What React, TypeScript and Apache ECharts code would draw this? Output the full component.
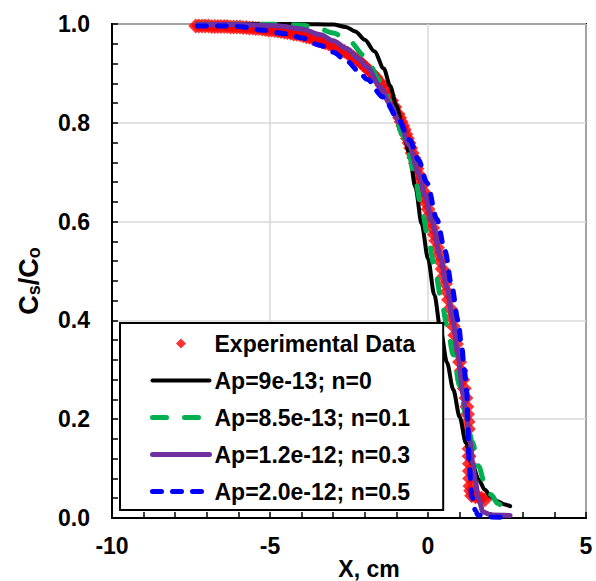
import React, { useEffect, useRef } from "react";
import * as echarts from "echarts";

const FONT = "'Liberation Sans', Arial, Helvetica, sans-serif";

const seriesNames = [
  "Experimental Data",
  "Ap=9e-13; n=0",
  "Ap=8.5e-13; n=0.1",
  "Ap=1.2e-12; n=0.3",
  "Ap=2.0e-12; n=0.5",
];

const xTicks = { min: -10, max: 5, interval: 5 };
const yTicks = { min: 0, max: 1, interval: 0.2 };

const expData: number[][] = [
  [-7.35, 0.996], [-7.25, 0.996], [-7.15, 0.996], [-7.05, 0.996], [-6.95, 0.996], [-6.85, 0.995],
  [-6.75, 0.995], [-6.65, 0.995], [-6.55, 0.995], [-6.45, 0.995], [-6.35, 0.995], [-6.25, 0.994],
  [-6.15, 0.994], [-6.05, 0.994], [-5.95, 0.994], [-5.85, 0.993], [-5.75, 0.993], [-5.65, 0.992],
  [-5.55, 0.992], [-5.45, 0.991], [-5.35, 0.991], [-5.25, 0.99], [-5.15, 0.989], [-5.05, 0.988],
  [-4.95, 0.988], [-4.85, 0.987], [-4.75, 0.986], [-4.65, 0.985], [-4.55, 0.984], [-4.45, 0.983],
  [-4.35, 0.982], [-4.25, 0.98], [-4.15, 0.979], [-4.05, 0.978], [-3.95, 0.976], [-3.85, 0.974],
  [-3.75, 0.973], [-3.65, 0.971], [-3.55, 0.969], [-3.45, 0.966], [-3.35, 0.964], [-3.25, 0.962],
  [-3.15, 0.96], [-3.05, 0.957], [-2.95, 0.954], [-2.85, 0.951], [-2.75, 0.948], [-2.65, 0.945],
  [-2.55, 0.941], [-2.45, 0.937], [-2.35, 0.932], [-2.25, 0.928], [-2.15, 0.923], [-2.05, 0.917],
  [-1.95, 0.911], [-1.85, 0.905], [-1.75, 0.899], [-1.65, 0.892], [-1.55, 0.884], [-1.45, 0.875],
  [-1.35, 0.866], [-1.25, 0.856], [-1.15, 0.845], [-1.05, 0.832],
  [-0.95, 0.818], [-0.9, 0.81], [-0.85, 0.802], [-0.8, 0.794], [-0.75, 0.786], [-0.7, 0.777],
  [-0.65, 0.768], [-0.6, 0.759], [-0.55, 0.749], [-0.5, 0.739], [-0.45, 0.729], [-0.4, 0.718],
  [-0.35, 0.707], [-0.3, 0.696], [-0.25, 0.685], [-0.2, 0.673], [-0.15, 0.661], [-0.1, 0.649],
  [-0.05, 0.637], [0.0, 0.625], [0.05, 0.613], [0.1, 0.6], [0.15, 0.587], [0.2, 0.574],
  [0.25, 0.561], [0.3, 0.547], [0.35, 0.533], [0.4, 0.519], [0.45, 0.504], [0.5, 0.489],
  [0.55, 0.474], [0.6, 0.458], [0.65, 0.442], [0.7, 0.424], [0.75, 0.406], [0.8, 0.388],
  [0.85, 0.37], [0.9, 0.352], [0.95, 0.334], [1.0, 0.316], [1.05, 0.298], [1.1, 0.28],
  [1.15, 0.262], [1.2, 0.243], [1.23, 0.225], [1.25, 0.21], [1.27, 0.195], [1.28, 0.18],
  [1.3, 0.14], [1.3, 0.125], [1.31, 0.11], [1.31, 0.095], [1.32, 0.08], [1.33, 0.065],
  [1.35, 0.055], [1.38, 0.045], [1.5, 0.043], [1.6, 0.042], [1.7, 0.04], [1.8, 0.037],
];

const blackN0: number[][] = [
  [-7.3, 1.0], [-4.0, 1.0], [-3.0, 0.999], [-2.6, 0.994], [-2.3, 0.985], [-2.0, 0.968],
  [-1.7, 0.945], [-1.4, 0.91], [-1.2, 0.875], [-1.0, 0.835], [-0.8, 0.79], [-0.6, 0.74],
  [-0.4, 0.67], [-0.2, 0.595], [0.0, 0.525], [0.2, 0.452], [0.4, 0.38], [0.6, 0.315],
  [0.8, 0.26], [1.0, 0.205], [1.2, 0.152], [1.4, 0.11], [1.6, 0.078], [1.8, 0.057],
  [2.0, 0.043], [2.2, 0.034], [2.4, 0.028], [2.6, 0.024],
];

const greenN01: number[][] = [
  [-7.3, 1.0], [-5.0, 1.0], [-4.0, 0.998], [-3.5, 0.992], [-3.0, 0.982], [-2.5, 0.966],
  [-2.0, 0.935], [-1.5, 0.885], [-1.1, 0.826], [-0.8, 0.775], [-0.6, 0.735], [-0.4, 0.682],
  [-0.2, 0.625], [0.0, 0.568], [0.2, 0.51], [0.4, 0.45], [0.6, 0.39], [0.8, 0.33],
  [1.0, 0.268], [1.2, 0.208], [1.4, 0.155], [1.6, 0.105], [1.8, 0.07], [2.0, 0.047],
  [2.2, 0.03], [2.44, 0.016],
];

const purpleN03: number[][] = [
  [-7.3, 0.999], [-6.0, 0.999], [-5.0, 0.997], [-4.7, 0.996], [-4.0, 0.99], [-3.4, 0.978],
  [-3.0, 0.966], [-2.57, 0.95], [-2.2, 0.93], [-1.93, 0.913], [-1.5, 0.872], [-1.2, 0.838],
  [-0.89, 0.8], [-0.6, 0.755], [-0.3, 0.698], [-0.09, 0.652], [0.13, 0.6], [0.4, 0.527],
  [0.6, 0.467], [0.79, 0.4], [0.95, 0.33], [1.11, 0.25], [1.22, 0.205], [1.33, 0.155],
  [1.42, 0.11], [1.49, 0.077], [1.6, 0.04], [1.74, 0.012], [2.0, 0.006], [2.6, 0.005],
];

const blueN05: number[][] = [
  [-7.3, 0.996], [-6.5, 0.996], [-6.0, 0.995], [-5.3, 0.988], [-4.46, 0.98], [-4.0, 0.972],
  [-3.42, 0.957], [-3.0, 0.943], [-2.57, 0.925], [-2.2, 0.905], [-1.93, 0.888], [-1.42, 0.852],
  [-0.98, 0.812], [-0.57, 0.765], [-0.3, 0.725], [-0.03, 0.678], [0.28, 0.605], [0.54, 0.54],
  [0.75, 0.47], [0.95, 0.4], [1.07, 0.345], [1.15, 0.3], [1.23, 0.255], [1.26, 0.2],
  [1.28, 0.15], [1.3, 0.11], [1.39, 0.043], [1.5, 0.015], [1.58, 0.006], [2.0, 0.002],
  [2.6, 0.0],
];

// legend icon for the scatter: small diamond centred in a 57x12 box
const DIAMOND_ICON =
  "path://M0,0L0.01,0M57,12L56.99,12M28.5,1L33.5,6L28.5,11L23.5,6Z";

export default function App() {
  const ref = useRef<HTMLDivElement>(null);
  useEffect(() => {
    document.body.style.margin = "0";
    const chart = echarts.init(ref.current!, null, { renderer: "svg" });
    const labelStyle = {
      color: "#000",
      fontFamily: FONT,
      fontWeight: "bold" as const,
      fontSize: 23,
    };
    const lineSeries = (name: string, data: number[][], color: string, width: number, type: any, z: number) => ({
      name,
      type: "line",
      data,
      showSymbol: false,
      symbol: "none",
      smooth: 0.3,
      smoothMonotone: "x",
      z,
      lineStyle: { color, width, type, cap: "round" },
      itemStyle: { color },
    });
    chart.setOption({
      animation: false,
      grid: {
        left: 112,
        top: 24,
        width: 474,
        height: 494,
        show: true,
        borderColor: "#000",
        borderWidth: 2,
      },
      xAxis: {
        type: "value",
        min: xTicks.min,
        max: xTicks.max,
        interval: xTicks.interval,
        axisLine: { show: true, onZero: false, lineStyle: { color: "#000", width: 2 } },
        axisTick: { show: true, inside: true, length: 6, lineStyle: { color: "#000", width: 1.5 } },
        minorTick: { show: true, splitNumber: 5, length: 6, lineStyle: { color: "#000", width: 1.5 } },
        splitLine: { show: true, lineStyle: { color: "#d9d9d9", width: 1.5 } },
        axisLabel: { ...labelStyle, margin: 16, formatter: (v: number) => String(v) },
      },
      yAxis: {
        type: "value",
        min: yTicks.min,
        max: yTicks.max,
        interval: yTicks.interval,
        axisLine: { show: true, onZero: false, lineStyle: { color: "#000", width: 2 } },
        axisTick: { show: true, inside: true, length: 6, lineStyle: { color: "#000", width: 1.5 } },
        minorTick: { show: true, splitNumber: 5, length: 6, lineStyle: { color: "#000", width: 1.5 } },
        splitLine: { show: true, lineStyle: { color: "#d9d9d9", width: 1.5 } },
        axisLabel: { ...labelStyle, margin: 22, formatter: (v: number) => v.toFixed(1) },
      },
      legend: {
        orient: "vertical",
        left: 120,
        top: 323,
        padding: [9, 28, 7, 30],
        backgroundColor: "#fff",
        borderColor: "#000",
        borderWidth: 2,
        borderRadius: 0,
        itemWidth: 57,
        itemHeight: 12,
        itemGap: 14,
        lineStyle: { width: "inherit", type: "inherit", cap: "inherit" },
        textStyle: { color: "#000", fontFamily: FONT, fontWeight: "bold", fontSize: 23, lineHeight: 23 },
        data: [
          { name: seriesNames[0], icon: DIAMOND_ICON },
          { name: seriesNames[1], itemStyle: { opacity: 0 } },
          { name: seriesNames[2], itemStyle: { opacity: 0 } },
          { name: seriesNames[3], itemStyle: { opacity: 0 } },
          { name: seriesNames[4], itemStyle: { opacity: 0 } },
        ],
        selectedMode: false,
      },
      series: [
        {
          name: seriesNames[0],
          type: "scatter",
          data: expData,
          symbol: "diamond",
          symbolSize: 15,
          itemStyle: { color: "#ff0000" },
          z: 1,
        },
        lineSeries(seriesNames[1], blackN0, "#000000", 4, "solid", 2),
        lineSeries(seriesNames[2], greenN01, "#00b050", 5, [14, 18], 3),
        lineSeries(seriesNames[3], purpleN03, "#7030a0", 5, "solid", 4),
        lineSeries(seriesNames[4], blueN05, "#0000ff", 5, [9, 11], 5),
      ],
      graphic: [
        {
          type: "text",
          x: 369,
          y: 569,
          style: {
            text: "X, cm",
            fill: "#000",
            font: `bold 23px ${FONT}`,
            textAlign: "center",
            textVerticalAlign: "middle",
          },
        },
        {
          type: "text",
          x: 29,
          y: 281,
          rotation: Math.PI / 2,
          style: {
            text: "{a|C}{b|s}{a|/C}{b|o}",
            fill: "#000",
            textAlign: "center",
            textVerticalAlign: "middle",
            rich: {
              a: { fontFamily: FONT, fontWeight: "bold", fontSize: 27, lineHeight: 28, fill: "#000" },
              b: { fontFamily: FONT, fontWeight: "bold", fontSize: 18, lineHeight: 10, verticalAlign: "bottom", fill: "#000" },
            },
          },
        },
      ],
    });
    return () => chart.dispose();
  }, []);
  return <div ref={ref} style={{ width: 596, height: 581 }} />;
}
